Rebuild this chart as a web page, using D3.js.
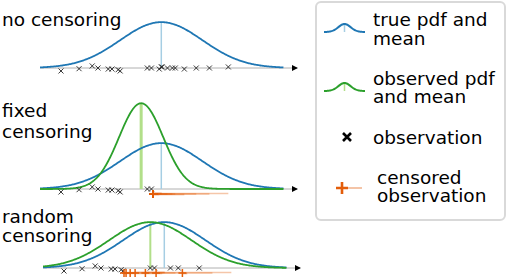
<!DOCTYPE html>
<html lang="en">
<head>
	<meta charset="utf-8">
	<title>censoring</title>
	<style>
		html, body { margin: 0; padding: 0; background: #fff; }
		svg { display: block; font-family: "DejaVu Sans", sans-serif; }
	</style>
</head>
<body>
	<script src="https://cdn.jsdelivr.net/npm/d3@7"></script>
	<script>
		// observations (true values, sd units), and a small vertical jitter (pdf units)
		const obs = [-2.44, -2.00, -1.68, -1.54, -1.29, -1.20, -1.05, -1.00, -0.34, -0.24,
			-0.05, 0.00, 0.02, 0.15, 0.27, 0.34, 0.56, 0.85, 1.17, 1.63];
		const jitter = [-0.026, -0.006, 0.018, 0, -0.009, -0.009, -0.015, -0.026, 0, 0,
			-0.009, 0.009, 0.009, 0, 0, 0, -0.009, 0, 0, 0.009];
		// random censoring times (null = not censored)
		const randomCens = [null, null, null, null, null, null, null, null, null, null,
			-0.98, -0.93, -0.71, null, -0.83, null, 0.44, null, -0.20, -0.46];
		const fixedCens = -0.2;

		const trueDist = { mu: 0, sd: 1 };
		const fixedFit = { mu: -0.49, sd: 0.535 };
		const randomFit = { mu: -0.34, sd: 1.0 };

		const panelTitles = [["no censoring"], ["fixed", "censoring"], ["random", "censoring"]];
		const legendLabels = [["true pdf and", "mean"], ["observed pdf", "and mean"], ["observation"], ["censored", "observation"]];

		const C = { blue: "#1f77b4", lblue: "#a6cee3", green: "#2ca02c", lgreen: "#b2df8a", orange: "#e35d0a" };

		const W = 508, H = 278;
		const svg = d3.select("body").append("svg").attr("width", W).attr("height", H);

		const pdf = (v, d) => Math.exp(-0.5 * ((v - d.mu) / d.sd) ** 2) / (d.sd * Math.sqrt(2 * Math.PI));
		const curveXs = d3.range(-2.95, 2.981, 0.02);

		const panels = [
			{ axisY: 68, x0: 40, fit: null, cens: null },
			{ axisY: 189, x0: 40, fit: fixedFit, cens: obs.map(v => v > fixedCens ? fixedCens : null) },
			{ axisY: 268, x0: 43, fit: randomFit, cens: randomCens }
		];

		panels.forEach((p, i) => {
			const x = d3.scaleLinear().domain([-2.95, 3.3]).range([p.x0, p.x0 + 257]);
			const y = d3.scaleLinear().domain([0, 1]).range([p.axisY, p.axisY - 115]);
			const g = svg.append("g");

			// axis with arrow
			g.append("line")
				.attr("x1", x(-2.95)).attr("x2", x(3.3))
				.attr("y1", y(0)).attr("y2", y(0))
				.attr("stroke", "#b0b0b0").attr("stroke-width", 1);
			g.append("path")
				.attr("d", `M${x(3.3) - 5},${y(0) - 3}L${x(3.3) + 1},${y(0)}L${x(3.3) - 5},${y(0) + 3}Z`)
				.attr("fill", "#000");

			const line = d => d3.line().x(v => x(v)).y(v => y(pdf(v, d)))(curveXs);

			// mean lines
			g.append("line")
				.attr("x1", x(trueDist.mu)).attr("x2", x(trueDist.mu))
				.attr("y1", y(0)).attr("y2", y(pdf(trueDist.mu, trueDist)))
				.attr("stroke", C.lblue).attr("stroke-width", 1.5);
			if (p.fit) {
				g.append("line")
					.attr("x1", x(p.fit.mu)).attr("x2", x(p.fit.mu))
					.attr("y1", y(0)).attr("y2", y(pdf(p.fit.mu, p.fit)))
					.attr("stroke", C.lgreen).attr("stroke-width", i === 1 ? 3 : 2);
			}

			g.append("path").attr("d", line(trueDist))
				.attr("fill", "none").attr("stroke", C.blue).attr("stroke-width", 1.8);
			if (p.fit) {
				g.append("path").attr("d", line(p.fit))
					.attr("fill", "none").attr("stroke", C.green).attr("stroke-width", 1.8);
			}

			// observations
			const pts = obs.map((v, k) => ({ v, j: jitter[k], c: p.cens ? p.cens[k] : null }));
			const seen = pts.filter(d => d.c === null);
			const cens = pts.filter(d => d.c !== null);

			g.selectAll("line.cl").data(cens).join("line")
				.attr("class", "cl")
				.attr("x1", d => x(d.c)).attr("x2", d => x(d.v))
				.attr("y1", d => y(0) + 5 - d.j * 60).attr("y2", d => y(0) + 5 - d.j * 60)
				.attr("stroke", C.orange).attr("stroke-opacity", 0.35).attr("stroke-width", 1.6);

			g.selectAll("path.x").data(seen).join("path")
				.attr("class", "x")
				.attr("d", d => {
					const cx = x(d.v), cy = y(d.j);
					return `M${cx - 2.5},${cy - 2.5}L${cx + 2.5},${cy + 2.5}M${cx - 2.5},${cy + 2.5}L${cx + 2.5},${cy - 2.5}`;
				})
				.attr("stroke", "#222").attr("stroke-width", 0.9).attr("fill", "none");

			g.selectAll("path.p").data(cens).join("path")
				.attr("class", "p")
				.attr("d", d => {
					const cx = x(d.c), cy = y(0) + 5;
					return `M${cx - 4},${cy}L${cx + 4},${cy}M${cx},${cy - 4}L${cx},${cy + 4}`;
				})
				.attr("stroke", C.orange).attr("stroke-width", 1.5).attr("fill", "none");

			// panel title
			const tY = [[26], [117, 138], [223, 242]][i];
			panelTitles[i].forEach((t, k) => {
				svg.append("text").attr("x", 2).attr("y", tY[k])
					.attr("font-size", 18.5).attr("fill", "#000").text(t);
			});
		});

		// legend
		const lg = svg.append("g");
		lg.append("rect").attr("x", 316).attr("y", 2).attr("width", 189).attr("height", 218)
			.attr("rx", 5).attr("fill", "#fff").attr("stroke", "#d9d9d9").attr("stroke-width", 2);

		const hx = d3.scaleLinear().domain([-3, 3]).range([324, 365]);
		const hdist = { mu: 0, sd: 0.9 };
		const handle = (baseY, col, lcol) => {
			const hy = d3.scaleLinear().domain([0, pdf(0, hdist)]).range([baseY, baseY - 8]);
			lg.append("line").attr("x1", hx(0)).attr("x2", hx(0)).attr("y1", baseY).attr("y2", baseY - 8)
				.attr("stroke", lcol).attr("stroke-width", 1.5);
			lg.append("path").attr("d", d3.line().x(v => hx(v)).y(v => hy(pdf(v, hdist)))(d3.range(-3, 3.01, 0.1)))
				.attr("fill", "none").attr("stroke", col).attr("stroke-width", 2);
		};
		handle(32, C.blue, C.lblue);
		handle(91, C.green, C.lgreen);

		lg.append("path").attr("d", "M343,133L351,141M343,141L351,133")
			.attr("stroke", "#000").attr("stroke-width", 2.6).attr("fill", "none");

		lg.append("line").attr("x1", 342).attr("x2", 362).attr("y1", 188).attr("y2", 188)
			.attr("stroke", C.orange).attr("stroke-opacity", 0.45).attr("stroke-width", 1.6);
		lg.append("path").attr("d", "M336,188L348,188M342,182L342,194")
			.attr("stroke", C.orange).attr("stroke-width", 2.6).attr("fill", "none");

		const legY = [[26, 45], [85, 103], [144], [184, 202]];
		const legX = [373, 373, 373, 377];
		legendLabels.forEach((lines, i) => {
			lines.forEach((t, k) => {
				lg.append("text").attr("x", legX[i]).attr("y", legY[i][k])
					.attr("font-size", 18.5).attr("fill", "#000").text(t);
			});
		});
	</script>
</body>
</html>
